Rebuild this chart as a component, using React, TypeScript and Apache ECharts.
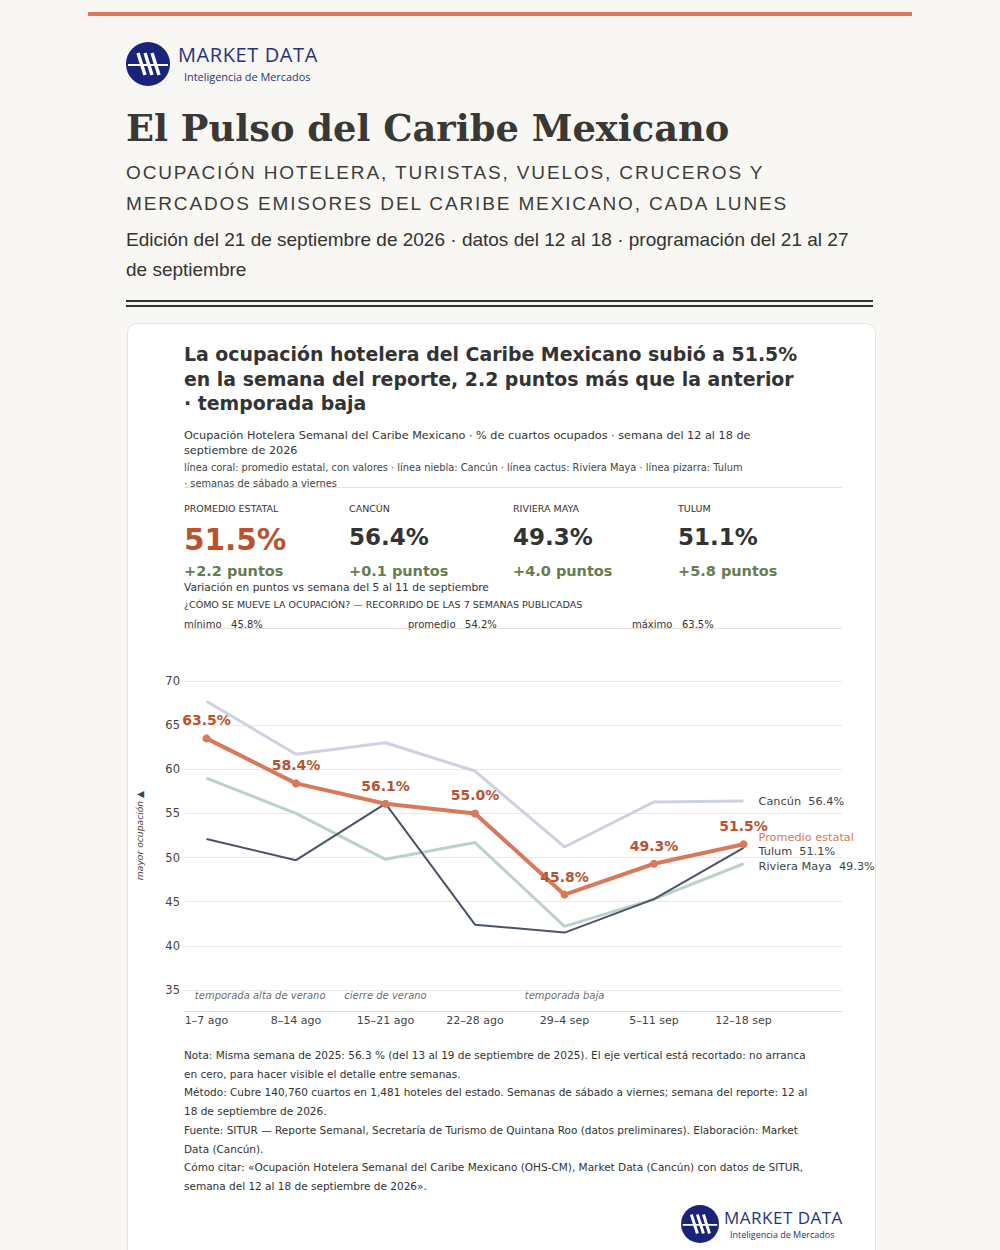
import React, { useEffect, useRef } from "react";
import * as echarts from "echarts";

const weeks = ["1–7 ago", "8–14 ago", "15–21 ago", "22–28 ago", "29–4 sep", "5–11 sep", "12–18 sep"];
const promedio = [63.5, 58.4, 56.1, 55.0, 45.8, 49.3, 51.5];
const cancun = [67.7, 61.7, 63.0, 59.8, 51.2, 56.3, 56.4];
const rivieraMaya = [59.0, 55.0, 49.8, 51.7, 42.2, 45.3, 49.3];
const tulum = [52.1, 49.7, 56.1, 42.4, 41.5, 45.3, 51.1];
const annotationText = ["temporada alta de verano", "cierre de verano", "temporada baja"];
const annotationAt = [0.6, 2, 4];
const yTicks = [35, 40, 45, 50, 55, 60, 65, 70];

const statLabels = ["PROMEDIO ESTATAL", "CANCÚN", "RIVIERA MAYA", "TULUM"];
const statValues = ["51.5%", "56.4%", "49.3%", "51.1%"];
const statDeltas = ["+2.2 puntos", "+0.1 puntos", "+4.0 puntos", "+5.8 puntos"];

const CORAL = "#d9785a";
const CORAL_DARK = "#b9532f";
const NAVY = "#1a237a";
const SANS = "'DejaVu Sans', sans-serif";

function Logo({ size }: { size: number }) {
  return (
    <svg width={size} height={size} viewBox="0 0 44 44">
      <circle cx="22" cy="22" r="22" fill={NAVY} />
      <line x1="2" y1="23" x2="42" y2="23" stroke="#fff" strokeWidth="2.2" />
      <line x1="12" y1="11" x2="19" y2="33" stroke="#fff" strokeWidth="3.4" />
      <line x1="19" y1="11" x2="26" y2="33" stroke="#fff" strokeWidth="3.4" />
      <line x1="26" y1="11" x2="33" y2="33" stroke="#fff" strokeWidth="3.4" />
    </svg>
  );
}

function Chart() {
  const ref = useRef<HTMLDivElement>(null);
  useEffect(() => {
    if (!ref.current) return;
    const chart = echarts.init(ref.current, null, { renderer: "svg" });
    const pts = (arr: number[]) => arr.map((v, i) => [i, v]);
    const endLabel = (name: string, dy: number, color: string, valueToo: boolean) => ({
      show: true,
      distance: 15,
      offset: [0, dy],
      color,
      fontFamily: SANS,
      fontSize: 11.3,
      formatter: (p: any) => (valueToo ? `${name}  ${p.value[1].toFixed(1)}%` : name),
    });
    chart.setOption({
      animation: false,
      grid: { left: 56, right: 34, top: 41, bottom: 50 },
      xAxis: {
        type: "value",
        min: -0.24,
        max: 7.1,
        offset: 21,
        axisLine: { show: true, lineStyle: { color: "#dedad2", width: 1 } },
        axisTick: { show: false },
        splitLine: { show: false },
        axisLabel: {
          customValues: weeks.map((_, i) => i),
          formatter: (v: number) => weeks[Math.round(v)] ?? "",
          color: "#444",
          fontFamily: SANS,
          fontSize: 11,
          margin: 4,
        },
      },
      yAxis: {
        type: "value",
        min: yTicks[0],
        max: yTicks[yTicks.length - 1],
        interval: 5,
        name: "mayor ocupación ▲",
        nameLocation: "middle",
        nameGap: 41,
        nameTextStyle: { fontStyle: "italic", fontSize: 9.2, color: "#444", fontFamily: SANS },
        axisLine: { show: false },
        axisTick: { show: false },
        splitLine: { lineStyle: { color: "#ece9e1", width: 1 } },
        axisLabel: { color: "#444", fontFamily: SANS, fontSize: 11.5, margin: 5 },
      },
      series: [
        {
          name: "Cancún",
          type: "line",
          data: pts(cancun),
          symbol: "none",
          lineStyle: { color: "#cdd2e2", width: 3 },
          endLabel: endLabel("Cancún", 0, "#444", true),
          z: 2,
        },
        {
          name: "Riviera Maya",
          type: "line",
          data: pts(rivieraMaya),
          symbol: "none",
          lineStyle: { color: "#bcd2c6", width: 3 },
          endLabel: endLabel("Riviera Maya", 3, "#444", true),
          z: 2,
        },
        {
          name: "Tulum",
          type: "line",
          data: pts(tulum),
          symbol: "none",
          lineStyle: { color: "#4a5468", width: 2 },
          endLabel: endLabel("Tulum", 4, "#444", true),
          z: 3,
        },
        {
          name: "Promedio estatal",
          type: "line",
          data: pts(promedio),
          symbol: "circle",
          symbolSize: 8,
          itemStyle: { color: CORAL },
          lineStyle: { color: CORAL, width: 4 },
          label: {
            show: true,
            position: "top",
            distance: 7,
            color: CORAL_DARK,
            fontFamily: SANS,
            fontWeight: "bold",
            fontSize: 14,
            formatter: (p: any) => `${p.value[1].toFixed(1)}%`,
          },
          endLabel: endLabel("Promedio estatal", -7, CORAL, false),
          z: 5,
        },
        {
          name: "anotaciones",
          type: "scatter",
          symbolSize: 0,
          data: annotationAt.map((x, i) => ({ value: [x, yTicks[0]], name: annotationText[i] })),
          label: {
            show: true,
            position: "bottom",
            distance: 0,
            formatter: (p: any) => p.name,
            color: "#444",
            fontStyle: "italic",
            fontFamily: SANS,
            fontSize: 10,
          },
          silent: true,
          z: 1,
        },
      ],
    });
    return () => chart.dispose();
  }, []);
  return <div ref={ref} style={{ position: "absolute", left: 127, top: 640, width: 749, height: 400 }} />;
}

export default function App() {
  const abs = (l: number, t: number, extra: React.CSSProperties = {}): React.CSSProperties => ({
    position: "absolute",
    left: l,
    top: t,
    margin: 0,
    whiteSpace: "nowrap",
    ...extra,
  });
  const statX = [184, 349, 513, 678];
  return (
    <div style={{ position: "absolute", left: 0, top: 0, width: 1000, height: 1250, overflow: "hidden", background: "#f8f7f3", fontFamily: SANS, color: "#333" }}>
      <div style={{ position: "absolute", left: 88, top: 12, width: 824, height: 4, background: CORAL }} />
      <div style={abs(126, 42)}><Logo size={44} /></div>
      <div style={abs(178, 44, { fontFamily: "'Open Sans', sans-serif", fontSize: 20, letterSpacing: 0.6, color: "#28337a", lineHeight: "22px" })}>MARKET DATA</div>
      <div style={abs(184, 70, { fontFamily: "'Open Sans', sans-serif", fontSize: 10.9, color: "#28337a", lineHeight: "14px" })}>Inteligencia de Mercados</div>

      <div style={abs(126, 104, { fontFamily: "'DejaVu Serif', serif", fontWeight: "bold", fontSize: 36.8, color: "#3a3834", lineHeight: "48px" })}>El Pulso del Caribe Mexicano</div>
      <div style={abs(126, 157, { fontFamily: "'Liberation Sans', Arial, sans-serif", fontSize: 19, letterSpacing: 1.87, color: "#3d3d3d", lineHeight: "31px" })}>
        OCUPACIÓN HOTELERA, TURISTAS, VUELOS, CRUCEROS Y<br />MERCADOS EMISORES DEL CARIBE MEXICANO, CADA LUNES
      </div>
      <div style={abs(126, 225, { fontFamily: "'Liberation Sans', Arial, sans-serif", fontSize: 19, color: "#333", lineHeight: "30px" })}>
        Edición del 21 de septiembre de 2026 · datos del 12 al 18 · programación del 21 al 27<br />de septiembre
      </div>
      <div style={{ position: "absolute", left: 126, top: 300, width: 747, height: 2, background: "#333" }} />
      <div style={{ position: "absolute", left: 126, top: 305, width: 747, height: 2, background: "#333" }} />

      <div style={{ position: "absolute", left: 127, top: 323, width: 747, height: 960, background: "#fff", border: "1px solid #e9e3dc", borderRadius: 10 }} />

      <div style={abs(184, 342, { fontWeight: "bold", fontSize: 18.9, lineHeight: "24.5px", color: "#333" })}>
        La ocupación hotelera del Caribe Mexicano subió a 51.5%<br />en la semana del reporte, 2.2 puntos más que la anterior<br />· temporada baja
      </div>
      <div style={abs(184, 428, { fontSize: 11.24, lineHeight: "15px", color: "#333" })}>
        Ocupación Hotelera Semanal del Caribe Mexicano · % de cuartos ocupados · semana del 12 al 18 de<br />septiembre de 2026
      </div>
      <div style={abs(184, 460, { fontSize: 9.85, lineHeight: "16px", color: "#444" })}>
        línea coral: promedio estatal, con valores · línea niebla: Cancún · línea cactus: Riviera Maya · línea pizarra: Tulum<br />· semanas de sábado a viernes
      </div>
      <div style={{ position: "absolute", left: 184, top: 487, width: 658, height: 1, background: "#e6e2da" }} />

      {statLabels.map((s, i) => (
        <div key={s} style={abs(statX[i], 503, { fontSize: 9.5, lineHeight: "12px", color: "#333" })}>{s}</div>
      ))}
      {statValues.map((s, i) => (
        <div
          key={s}
          style={abs(statX[i], i === 0 ? 521 : 523, {
            fontWeight: "bold",
            fontSize: i === 0 ? 29.5 : 23,
            lineHeight: i === 0 ? "38px" : "28px",
            color: i === 0 ? CORAL_DARK : "#333",
          })}
        >
          {s}
        </div>
      ))}
      {statDeltas.map((s, i) => (
        <div key={s} style={abs(statX[i], 562, { fontWeight: "bold", fontSize: 14.5, lineHeight: "18px", color: "#687c52" })}>{s}</div>
      ))}
      <div style={abs(184, 580, { fontSize: 10.6, lineHeight: "15px", color: "#333" })}>Variación en puntos vs semana del 5 al 11 de septiembre</div>
      <div style={abs(184, 599, { fontSize: 9.5, lineHeight: "12px", color: "#333" })}>¿CÓMO SE MUEVE LA OCUPACIÓN? — RECORRIDO DE LAS 7 SEMANAS PUBLICADAS</div>
      <div style={abs(184, 618, { fontSize: 10, lineHeight: "13px", color: "#333" })}>mínimo&nbsp;&nbsp;&nbsp;45.8%</div>
      <div style={abs(408, 618, { fontSize: 10, lineHeight: "13px", color: "#333" })}>promedio&nbsp;&nbsp;&nbsp;54.2%</div>
      <div style={abs(632, 618, { fontSize: 10, lineHeight: "13px", color: "#333" })}>máximo&nbsp;&nbsp;&nbsp;63.5%</div>
      <div style={{ position: "absolute", left: 184, top: 628, width: 658, height: 1, background: "#e6e2da" }} />

      <Chart />

      <div style={abs(184, 1046, { fontSize: 10.5, lineHeight: "18.5px", color: "#333" })}>
        Nota: Misma semana de 2025: 56.3 % (del 13 al 19 de septiembre de 2025). El eje vertical está recortado: no arranca<br />en cero, para hacer visible el detalle entre semanas.
      </div>
      <div style={abs(184, 1083, { fontSize: 10.5, lineHeight: "18.5px", color: "#333" })}>
        Método: Cubre 140,760 cuartos en 1,481 hoteles del estado. Semanas de sábado a viernes; semana del reporte: 12 al<br />18 de septiembre de 2026.
      </div>
      <div style={abs(184, 1121, { fontSize: 10.5, lineHeight: "18.5px", color: "#333" })}>
        Fuente: SITUR — Reporte Semanal, Secretaría de Turismo de Quintana Roo (datos preliminares). Elaboración: Market<br />Data (Cancún).
      </div>
      <div style={abs(184, 1158, { fontSize: 10.5, lineHeight: "18.5px", color: "#333" })}>
        Cómo citar: «Ocupación Hotelera Semanal del Caribe Mexicano (OHS-CM), Market Data (Cancún) con datos de SITUR,<br />semana del 12 al 18 de septiembre de 2026».
      </div>

      <div style={abs(681, 1205)}><Logo size={38} /></div>
      <div style={abs(724, 1208, { fontFamily: "'Open Sans', sans-serif", fontSize: 17, letterSpacing: 0.5, color: "#28337a", lineHeight: "20px" })}>MARKET DATA</div>
      <div style={abs(730, 1229, { fontFamily: "'Open Sans', sans-serif", fontSize: 9, color: "#28337a", lineHeight: "12px" })}>Inteligencia de Mercados</div>
    </div>
  );
}
